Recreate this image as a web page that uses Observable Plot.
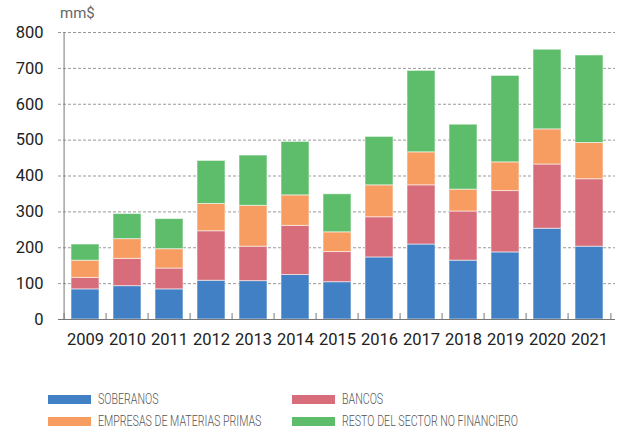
<!DOCTYPE html>
<html>
<head>
<meta charset="utf-8">
<script src="https://cdn.jsdelivr.net/npm/d3@7"></script>
<script src="https://cdn.jsdelivr.net/npm/@observablehq/plot@0.6"></script>
<style>
  html, body { margin: 0; padding: 0; background: #fff; }
  #wrap { position: relative; width: 627px; height: 434px; font-family: Roboto, sans-serif; }
  #unit { position: absolute; left: 60px; top: 4px; font-size: 15px; color: #666; font-family: Roboto, sans-serif; }
  .legend { position: absolute; font-family: Roboto, sans-serif; font-weight: 300; font-size: 14px; color: #555; display: flex; align-items: center; white-space: nowrap; }
  .legend .sw { width: 43px; height: 9px; margin-right: 7px; flex: none; }
  .legend span { display: inline-block; transform: scaleX(0.76); transform-origin: left center; }
</style>
</head>
<body>
<div id="wrap">
  <div id="chart"></div>
  <div id="unit">mm$</div>
  <div id="legend"></div>
</div>
<script>
const years = ["2009","2010","2011","2012","2013","2014","2015","2016","2017","2018","2019","2020","2021"];
const seriesNames = ["SOBERANOS", "BANCOS", "EMPRESAS DE MATERIAS PRIMAS", "RESTO DEL SECTOR NO FINANCIERO"];
const soberanos = [84, 93, 84, 108, 107, 124, 104, 173, 209, 164, 187, 253, 203];
const bancos    = [32, 76, 58, 138, 96, 137, 84, 112, 165, 137, 171, 179, 188];
const empresas  = [48, 55, 54, 76, 114, 85, 55, 89, 92, 61, 80, 98, 101];
const resto     = [45, 70, 84, 120, 140, 149, 106, 135, 227, 181, 241, 222, 244];
const yTicks = [0, 100, 200, 300, 400, 500, 600, 700, 800];
const colors = ["#4180c4", "#d76d7b", "#f79d62", "#5ebd6b"];

const seriesValues = [soberanos, bancos, empresas, resto];
const data = [];
seriesNames.forEach((s, i) => years.forEach((y, j) => data.push({year: y, series: s, value: seriesValues[i][j]})));

const W = 627, H = 370, ML = 58, MR = 12, MT = 32, MB = 51;
const padInner = 0.345, padOuter = 0.175;
const step = (W - ML - MR) / (years.length - padInner + 2 * padOuter);

const chart = Plot.plot({
  width: W,
  height: H,
  marginLeft: ML,
  marginRight: MR,
  marginTop: MT,
  marginBottom: MB,
  style: {fontFamily: "Roboto, sans-serif", fontSize: "16px", color: "#222", background: "white"},
  x: {domain: years, paddingInner: padInner, paddingOuter: padOuter, label: null},
  y: {domain: [0, 800], label: null},
  color: {domain: seriesNames, range: colors},
  marks: [
    Plot.gridY(yTicks.filter(d => d > 0), {stroke: "#999", strokeOpacity: 1, strokeDasharray: "3,2"}),
    Plot.barY(data, Plot.stackY({x: "year", y: "value", fill: "series", order: seriesNames, stroke: "white", strokeOpacity: 0.55, strokeWidth: 1})),
    Plot.axisY(yTicks, {tickSize: 0, tickPadding: 15, fontSize: 16.5, fill: "#222", label: null}),
    Plot.axisX({tickSize: 0, tickPadding: 14, fontSize: 16.5, fill: "#222", label: null}),
    Plot.ruleY([0], {stroke: "#777", strokeWidth: 1.2}),
    Plot.ruleX(years, {x: d => d, dx: -step / 2, stroke: "#777", insetTop: H - MT - MB - 6}),
    Plot.ruleX(years.slice(-1), {x: d => d, dx: step / 2, stroke: "#777", insetTop: H - MT - MB - 6}),
    Plot.ruleX(years.slice(0, 1), {x: d => d, dx: -step / 2, stroke: "#777"})
  ]
});
document.getElementById("chart").appendChild(chart);

const legendPos = [[48, 391], [292, 391], [48, 413], [292, 413]];
const leg = document.getElementById("legend");
seriesNames.forEach((s, i) => {
  const d = document.createElement("div");
  d.className = "legend";
  d.style.left = legendPos[i][0] + "px";
  d.style.top = legendPos[i][1] + "px";
  d.innerHTML = `<div class="sw" style="background:${colors[i]}"></div><span>${s}</span>`;
  leg.appendChild(d);
});
</script>
</body>
</html>
